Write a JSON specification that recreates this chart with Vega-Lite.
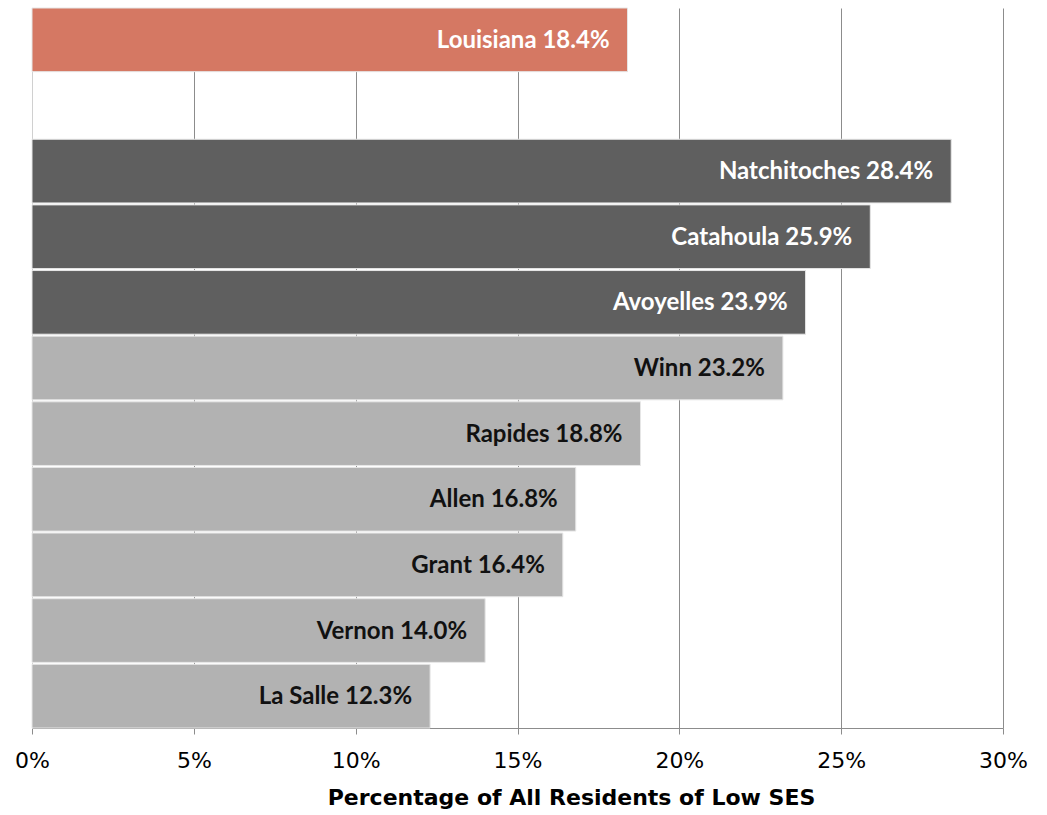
{
  "$schema": "https://vega.github.io/schema/vega-lite/v6.json",
  "width": 971,
  "height": 720,
  "autosize": {"type": "none"},
  "padding": {"left": 32, "top": 8, "right": 44, "bottom": 87},
  "background": "white",
  "config": {"view": {"stroke": null}, "font": "DejaVu Sans"},
  "data": {
    "values": [
      {"name": "Louisiana", "value": 18.4, "group": "state", "label": "Louisiana 18.4%"},
      {"name": "Natchitoches", "value": 28.4, "group": "high", "label": "Natchitoches 28.4%"},
      {"name": "Catahoula", "value": 25.9, "group": "high", "label": "Catahoula 25.9%"},
      {"name": "Avoyelles", "value": 23.9, "group": "high", "label": "Avoyelles 23.9%"},
      {"name": "Winn", "value": 23.2, "group": "other", "label": "Winn 23.2%"},
      {"name": "Rapides", "value": 18.8, "group": "other", "label": "Rapides 18.8%"},
      {"name": "Allen", "value": 16.8, "group": "other", "label": "Allen 16.8%"},
      {"name": "Grant", "value": 16.4, "group": "other", "label": "Grant 16.4%"},
      {"name": "Vernon", "value": 14.0, "group": "other", "label": "Vernon 14.0%"},
      {"name": "La Salle", "value": 12.3, "group": "other", "label": "La Salle 12.3%"}
    ]
  },
  "encoding": {
    "y": {
      "field": "name",
      "type": "nominal",
      "scale": {
        "domain": ["Louisiana", " ", "Natchitoches", "Catahoula", "Avoyelles", "Winn", "Rapides", "Allen", "Grant", "Vernon", "La Salle"],
        "paddingInner": 0.03,
        "paddingOuter": 0
      },
      "axis": {"labels": false, "ticks": false, "title": null, "domainColor": "#d0d0d0", "domainWidth": 1}
    },
    "x": {
      "field": "value",
      "type": "quantitative",
      "scale": {"domain": [0, 30], "nice": false},
      "axis": {
        "values": [0, 5, 10, 15, 20, 25, 30],
        "labelExpr": "datum.value + '%'",
        "grid": true,
        "gridColor": "#8c8c8c",
        "gridWidth": 1,
        "domainColor": "#8c8c8c",
        "tickColor": "#8c8c8c",
        "tickSize": 6,
        "labelFont": "DejaVu Sans",
        "labelFontSize": 22,
        "labelColor": "#000000",
        "labelPadding": 16,
        "labelFlush": false,
        "labelOverlap": false,
        "title": "Percentage of  All Residents of Low SES",
        "titleFont": "DejaVu Sans",
        "titleFontSize": 22,
        "titleFontWeight": "bold",
        "titleColor": "#000000",
        "titleX": 539,
        "titleY": 76,
        "titleAlign": "center",
        "titleBaseline": "alphabetic"
      }
    }
  },
  "layer": [
    {
      "mark": {"type": "bar", "stroke": "#e6e6e6", "strokeWidth": 1},
      "encoding": {
        "color": {
          "field": "group",
          "type": "nominal",
          "scale": {"domain": ["state", "high", "other"], "range": ["#D57863", "#5F5F5F", "#B2B2B2"]},
          "legend": null
        }
      }
    },
    {
      "mark": {"type": "text", "align": "right", "baseline": "middle", "dx": -18, "dy": 1, "font": "Lato", "fontSize": 24, "fontWeight": "bold"},
      "encoding": {
        "text": {"field": "label"},
        "color": {
          "condition": {"test": "datum.group === 'other'", "value": "#111111"},
          "value": "#ffffff"
        }
      }
    }
  ]
}
